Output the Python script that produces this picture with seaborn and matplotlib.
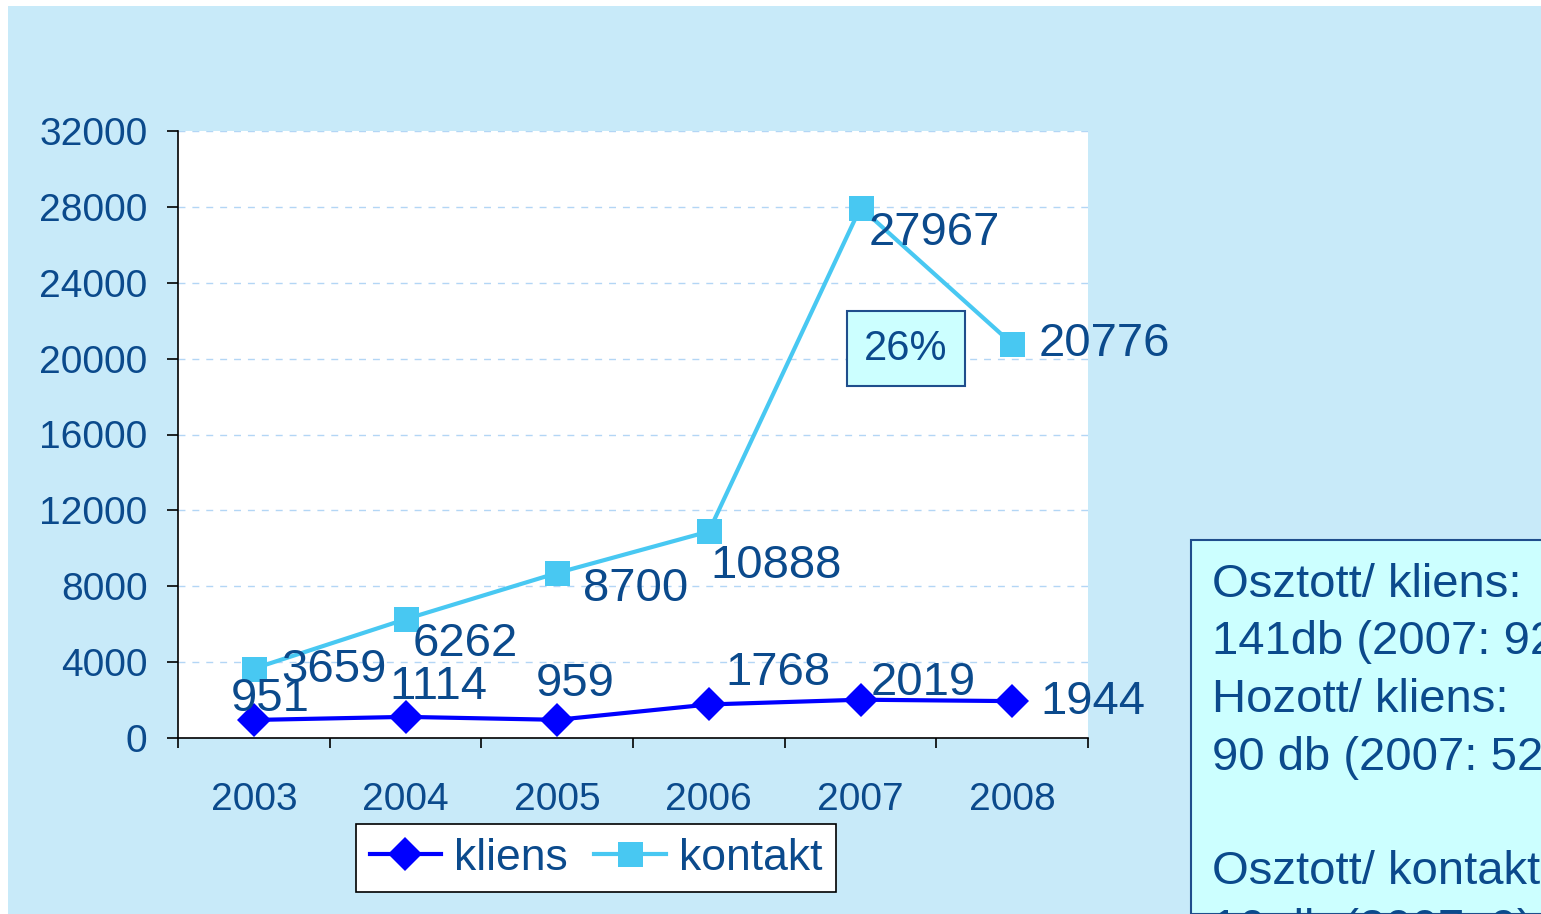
import pandas as pd
import matplotlib
matplotlib.use("Agg")
import matplotlib.pyplot as plt
import seaborn as sns
from matplotlib.patches import Rectangle
from matplotlib.ticker import FixedLocator

years = [2003, 2004, 2005, 2006, 2007, 2008]
kliens = [951, 1114, 959, 1768, 2019, 1944]
kontakt = [3659, 6262, 8700, 10888, 27967, 20776]
series_names = ['kliens', 'kontakt']
y_ticks = list(range(0, 32001, 4000))
box_lines = ['Osztott/ kliens:', '141db (2007: 92)', 'Hozott/ kliens:',
             '90 db (2007: 52)', '', 'Osztott/ kontakt:', '16 db (2007: 9)']

# label offsets in pixels (dx, dy) from each point
kliens_off = [(-23, 21), (-16, 30), (-21, 36), (17, 31), (10, 17), (28, -1)]
kontakt_off = [(27, -1), (7, -25), (26, -16), (2, -35), (8, -25), (26, 0)]

plt.rcParams['font.family'] = ['Liberation Sans', 'DejaVu Sans']
txt_col = '#0B4A8C'
bg_col = '#C8EAF9'
box_col = '#CCFFFF'
edge_col = '#1F4E8C'
palette = {'kliens': '#0000FF', 'kontakt': '#48C8F2'}
marker_sizes = {'D': 17, 's': 18}

df = pd.DataFrame({'year': years * 2,
                   'value': kliens + kontakt,
                   'series': ['kliens'] * len(years) + ['kontakt'] * len(years)})

W, H = 1541, 914
fig = plt.figure(figsize=(W / 100, H / 100), dpi=100)
fig.patch.set_facecolor('white')
fig.add_artist(Rectangle((8 / W, 0), 1, 1 - 6 / H, transform=fig.transFigure,
                         facecolor=bg_col, edgecolor='none', zorder=-10))

ax = fig.add_axes([178 / W, (H - 738) / H, (1088 - 178) / W, (738 - 131) / H])
ax.set_facecolor('white')

sns.lineplot(data=df, x='year', y='value', hue='series', style='series',
             palette=palette, markers={'kliens': 'D', 'kontakt': 's'},
             dashes=False, linewidth=3, markersize=15, markeredgewidth=0,
             ax=ax, legend=True)
for ln in ax.lines:
    m = ln.get_marker()
    if m in marker_sizes:
        ln.set_markersize(marker_sizes[m])

ax.set_xlim(2002.5, 2008.5)
ax.set_ylim(0, 32000)
ax.set_yticks(y_ticks)
ax.set_xticks(years)
ax.xaxis.set_minor_locator(FixedLocator([y - 0.5 for y in years] + [2008.5]))
ax.tick_params(axis='x', which='major', length=0, pad=32, labelsize=28, labelcolor=txt_col)
ax.tick_params(axis='x', which='minor', length=7, width=1.2, direction='out', color='black')
ax.tick_params(axis='y', length=8, width=1.2, pad=14, labelsize=28, labelcolor=txt_col)
ax.grid(axis='y', linestyle=(0, (5, 5)), color='#B3D6F5', linewidth=1)
ax.set_axisbelow(True)
for s in ['top', 'right']:
    ax.spines[s].set_visible(False)
for s in ['left', 'bottom']:
    ax.spines[s].set_color('black')
    ax.spines[s].set_linewidth(1.2)
ax.set(xlabel='', ylabel='')

for vals, offs in [(kliens, kliens_off), (kontakt, kontakt_off)]:
    for yr, v, (dx, dy) in zip(years, vals, offs):
        ax.annotate(str(v), (yr, v), xytext=(dx, dy), textcoords='offset pixels',
                    ha='left', va='center', fontsize=34, color=txt_col,
                    annotation_clip=False, zorder=5)

ax.text(0.80, 0.641, '26%', transform=ax.transAxes, ha='center', va='center',
        fontsize=30, color=txt_col,
        bbox=dict(boxstyle='square,pad=0.42', facecolor=box_col, edgecolor=edge_col, linewidth=1.5))

handles, labels = ax.get_legend_handles_labels()
ax.get_legend().remove()
for h in handles:
    m = h.get_marker()
    if m in marker_sizes:
        h.set_markersize(marker_sizes[m])
leg = fig.legend(handles, labels, loc='center', bbox_to_anchor=(596 / W, 1 - 858 / H),
                 ncol=2, fontsize=32, frameon=True, fancybox=False, framealpha=1,
                 handlelength=1.6, handletextpad=0.3, columnspacing=0.6,
                 borderpad=0.3, borderaxespad=0)
leg.get_frame().set_edgecolor('black')
leg.get_frame().set_facecolor('white')
leg.get_frame().set_linewidth(1.2)
for t in leg.get_texts():
    t.set_color(txt_col)

fig.add_artist(Rectangle((1191 / W, 0), 1, (H - 540) / H, transform=fig.transFigure,
                         facecolor=box_col, edgecolor=edge_col, linewidth=1.5, zorder=1))
for i, line in enumerate(box_lines):
    base = 597 + 57.5 * i
    fig.text(1212 / W, 1 - base / H, line, ha='left', va='baseline',
             fontsize=34, color=txt_col, zorder=2)

fig.savefig('out.png', dpi=100)
